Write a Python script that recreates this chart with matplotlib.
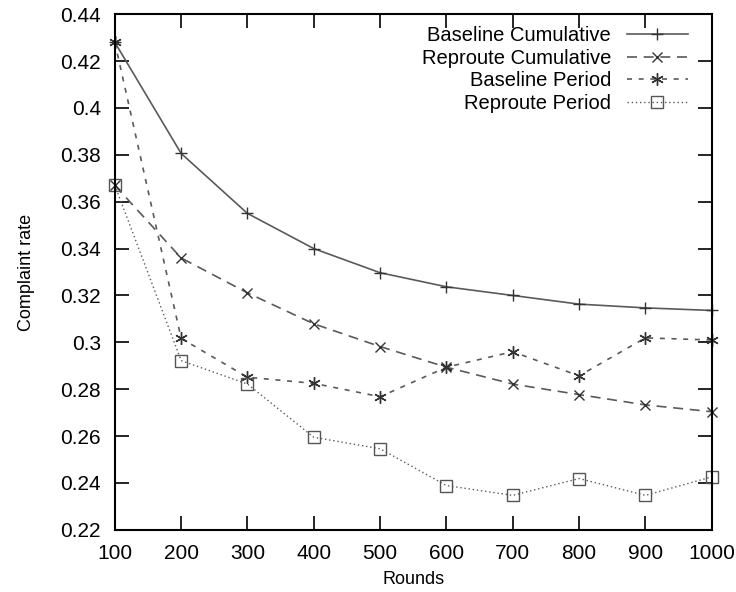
import matplotlib
matplotlib.use("Agg")
from matplotlib import pyplot as plt

plt.rcParams['font.family'] = ['Liberation Sans', 'DejaVu Sans']

rounds = [100, 200, 300, 400, 500, 600, 700, 800, 900, 1000]
baseline_cum = [0.428, 0.3806, 0.355, 0.340, 0.3297, 0.3237, 0.320, 0.3163, 0.3147, 0.3136]
reproute_cum = [0.367, 0.336, 0.3211, 0.3079, 0.2982, 0.2894, 0.2822, 0.2777, 0.2733, 0.2704]
baseline_per = [0.428, 0.3017, 0.2851, 0.2825, 0.2768, 0.2894, 0.2960, 0.2857, 0.3019, 0.3010]
reproute_per = [0.367, 0.2922, 0.2822, 0.2595, 0.2546, 0.2389, 0.2347, 0.2419, 0.2347, 0.2426]

fig = plt.figure(figsize=(7.36, 5.92), dpi=100)
ax = fig.add_axes([0.156, 0.105, 0.811, 0.871])

c = '#5a5a5a'
ax.plot(rounds, baseline_cum, color=c, lw=1.2, marker='+', ms=8, mec='#333333',
        clip_on=False, label='Baseline Cumulative')
ax.plot(rounds, reproute_cum, color=c, lw=1.2, ls=(0, (6, 4)), marker='x', ms=7,
        mec='#333333', clip_on=False, label='Reproute Cumulative')
ax.plot(rounds, baseline_per, color=c, lw=1.2, ls=(0, (3, 4)), marker=(6, 2, 0), ms=9,
        mec='#333333', clip_on=False, label='Baseline Period')
ax.plot(rounds, reproute_per, color=c, lw=1.0, ls=(0, (1, 2)), marker='s', ms=8,
        mfc='none', mec='#555555', clip_on=False, label='Reproute Period')

ax.set_xlim(100, 1000)
ax.set_ylim(0.22, 0.44)
ax.set_xticks(rounds)
yt = [0.22, 0.24, 0.26, 0.28, 0.3, 0.32, 0.34, 0.36, 0.38, 0.4, 0.42, 0.44]
ax.set_yticks(yt)
ax.set_yticklabels([('%g' % v) for v in yt])
ax.tick_params(direction='in', top=True, right=True, length=10, width=1.2,
               labelsize=15, colors='black')
ax.tick_params(axis='y', pad=10)
ax.tick_params(axis='x', pad=10)
for s in ax.spines.values():
    s.set_linewidth(1.5)

ax.set_xlabel('Rounds', fontsize=13, labelpad=6)
ax.set_ylabel('Complaint rate', fontsize=13, labelpad=18)

ax.legend(loc='upper right', bbox_to_anchor=(0.98, 1.0), frameon=False,
          markerfirst=False, fontsize=14.5, handlelength=3.0, labelspacing=0.17,
          borderaxespad=0.2, handletextpad=0.8)

fig.savefig('out.png', dpi=100)
